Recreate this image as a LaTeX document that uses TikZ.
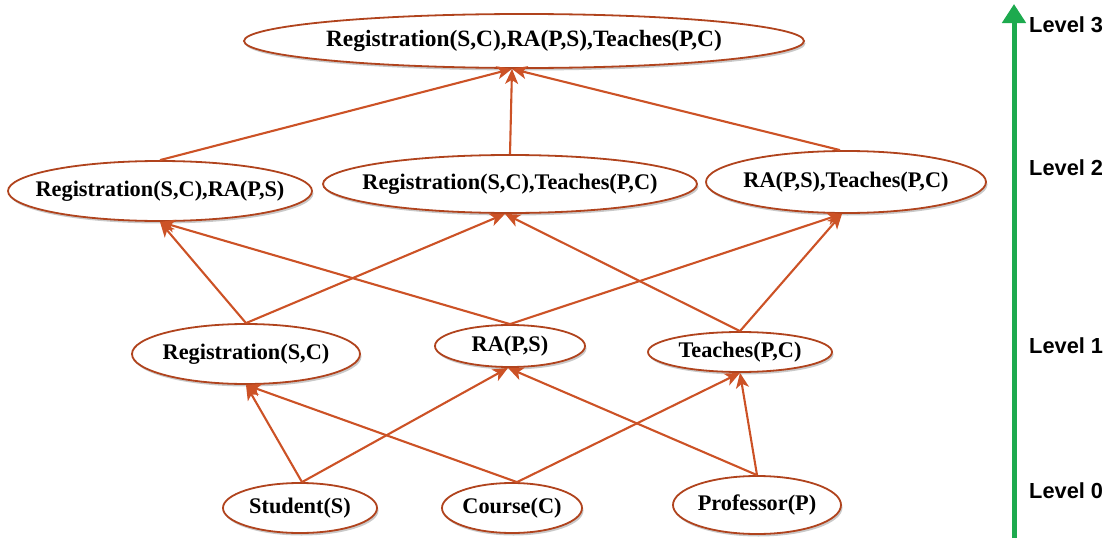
\documentclass[tikz,border=0pt]{standalone}
\usepackage{fontspec}
\setmainfont{Liberation Serif}
\newfontfamily\levelfont{Liberation Sans}
\usetikzlibrary{arrows.meta,shapes.geometric,shadows}

\definecolor{rimbrown}{HTML}{B0431D}
\definecolor{linkorange}{HTML}{CC5226}
\definecolor{levelgreen}{HTML}{1DAA4E}

% zero-width text box, so the ellipse takes exactly its minimum size
\newcommand\lattxt[1]{\makebox[0pt][c]{#1}}

\tikzset{
  lattice/.style={ellipse, draw=rimbrown, line width=1.8pt, fill=white,
    inner sep=0pt, font=\fontsize{22.3}{26}\selectfont\bfseries,
    drop shadow={shadow xshift=1.5pt, shadow yshift=-2.5pt, opacity=0.3, fill=black!70}},
  link/.style={draw=linkorange, line width=2.1pt,
    -{Stealth[length=15pt,width=13pt,inset=4pt]}},
  levellabel/.style={anchor=base west, inner sep=0pt,
    font=\levelfont\fontsize{21.8}{24}\selectfont\bfseries},
}

\begin{document}
\begin{tikzpicture}[x=1pt,y=-1pt]
\useasboundingbox (0,0) rectangle (1112,546);

% level 3
\node[lattice, minimum width=560pt, minimum height=54pt,
  font=\fontsize{23.4}{27}\selectfont\bfseries] (top) at (524,41)
  {\lattxt{Registration(S,C),RA(P,S),Teaches(P,C)}};

% level 2
\node[lattice, minimum width=304pt, minimum height=60pt] (rsra) at (160,191)
  {\lattxt{Registration(S,C),RA(P,S)}};
\node[lattice, minimum width=374pt, minimum height=58pt] (rste) at (510,184)
  {\lattxt{Registration(S,C),Teaches(P,C)}};
\node[lattice, minimum width=280pt, minimum height=62pt] (rate) at (846,182)
  {\lattxt{RA(P,S),Teaches(P,C)}};

% level 1
\node[lattice, minimum width=228pt, minimum height=60pt] (reg) at (246,354)
  {\lattxt{Registration(S,C)}};
\node[lattice, minimum width=150pt, minimum height=42pt] (ra) at (510,346)
  {\lattxt{RA(P,S)}};
\node[lattice, minimum width=184pt, minimum height=40pt] (tea) at (740,352)
  {\lattxt{Teaches(P,C)}};

% level 0
\node[lattice, minimum width=154pt, minimum height=50pt] (stu) at (300,508)
  {\lattxt{Student(S)}};
\node[lattice, minimum width=140pt, minimum height=50pt] (cou) at (512,508)
  {\lattxt{Course(C)}};
\node[lattice, minimum width=168pt, minimum height=58pt] (pro) at (757,505)
  {\lattxt{Professor(P)}};

% level 0 -> level 1
\draw[link] ([xshift=2pt]stu.north) -- (reg.south);
\draw[link] ([xshift=2pt]stu.north) -- ([xshift=-2pt]ra.south);
\draw[link] ([xshift=5pt]cou.north) -- (reg.south);
\draw[link] ([xshift=5pt]cou.north) -- (tea.south);
\draw[link] (pro.north) -- ([xshift=-2pt]ra.south);
\draw[link] (pro.north) -- (tea.south);

% level 1 -> level 2
\draw[link] (reg.north) -- (rsra.south);
\draw[link] (reg.north) -- ([xshift=-5pt]rste.south);
\draw[link] (ra.north) -- (rsra.south);
\draw[link] (ra.north) -- ([xshift=-4pt]rate.south);
\draw[link] (tea.north) -- ([xshift=-5pt]rste.south);
\draw[link] (tea.north) -- ([xshift=-4pt]rate.south);

% level 2 -> level 3
\draw[link] (rsra.north) -- ([xshift=-12pt]top.south);
\draw[link] (rste.north) -- ([xshift=-12pt]top.south);
\draw[link] ([xshift=-6pt]rate.north) -- ([xshift=-12pt]top.south);

% level axis
\coordinate (axisfoot) at (1014,538);
\coordinate (axishead) at (1014,4);
\draw[levelgreen, line width=5pt,
  -{Triangle[length=19pt,width=23pt]},
  drop shadow={shadow xshift=1.5pt, shadow yshift=-2pt, opacity=0.25}]
  (axisfoot) -- (axishead);

\node[levellabel] (l3) at (1029,32) {Level 3};
\node[levellabel] (l2) at (1029,175) {Level 2};
\node[levellabel] (l1) at (1029,353) {Level 1};
\node[levellabel] (l0) at (1029,498) {Level 0};
\end{tikzpicture}
\end{document}
